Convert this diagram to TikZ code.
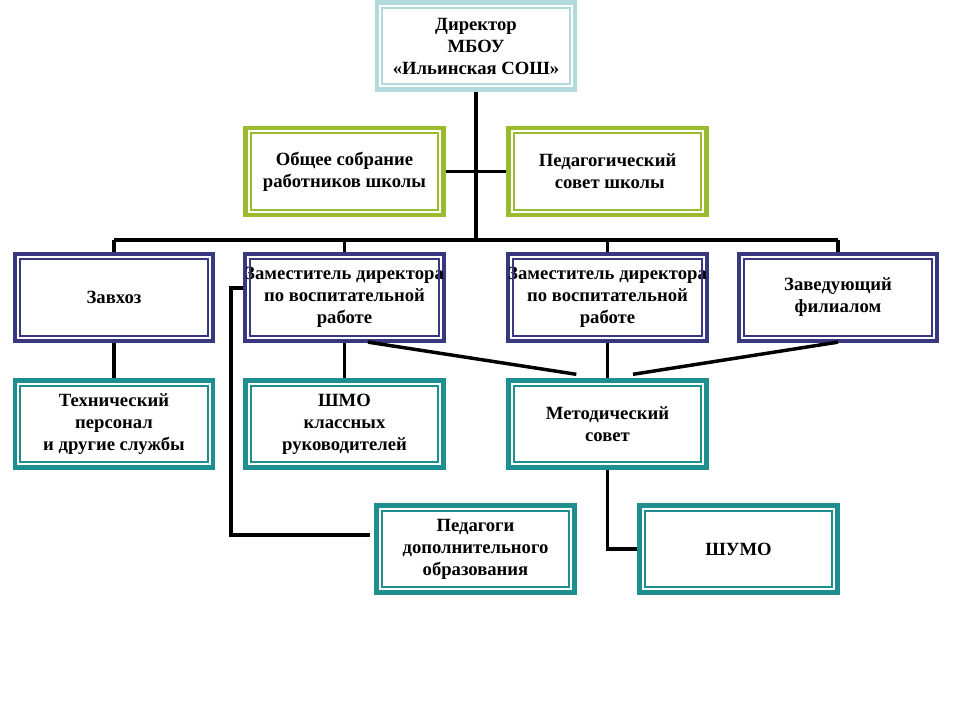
\documentclass[tikz,border=0pt]{standalone}
\usepackage{fontspec}
\setmainfont{Liberation Serif}
\definecolor{dirc}{RGB}{178,218,218}
\definecolor{grn}{RGB}{155,187,46}
\definecolor{blu}{RGB}{56,56,128}
\definecolor{tea}{RGB}{30,142,142}
\begin{document}
\begin{tikzpicture}[x=0.75pt,y=-0.75pt,
  orgbox/.style={draw=#1, line width=3.3pt, minimum width=148.5pt, minimum height=65.25pt,
    inner sep=0pt, align=center, font=\fontsize{14pt}{16.5pt}\selectfont\bfseries, text=black},
  conn/.style={draw=black, line width=2.6pt}]
\useasboundingbox (0,0) rectangle (960,720);
\fill[white] (0,0) rectangle (960,720);

\node[orgbox=dirc] (dir) at (476,46) {Директор\\МБОУ\\«Ильинская СОШ»};
\node[orgbox=grn] (obs) at (344.5,171.5) {Общее собрание\\работников школы};
\node[orgbox=grn] (ped) at (607.5,171.5) {Педагогический\\\ совет школы};
\node[orgbox=blu] (zav) at (114,297.5) {Завхоз};
\node[orgbox=blu] (zam1) at (344.5,297.5) {Заместитель директора\\по воспитательной\\работе};
\node[orgbox=blu] (zam2) at (607.5,297.5) {Заместитель директора\\по воспитательной\\работе};
\node[orgbox=blu] (fil) at (838,297.5) {Заведующий\\филиалом};
\node[orgbox=tea] (tech) at (114,424) {Технический\\персонал\\и другие службы};
\node[orgbox=tea] (shmo) at (344.5,424) {ШМО\\классных\\руководителей};
\node[orgbox=tea] (met) at (607.5,424) {Методический\\совет};
\node[orgbox=tea] (pdo) at (475.5,549) {Педагоги\\дополнительного\\образования};
\node[orgbox=tea] (shumo) at (738.5,549) {ШУМО};

\foreach \n/\c in {dir/dirc,obs/grn,ped/grn,zav/blu,zam1/blu,zam2/blu,fil/blu,tech/tea,shmo/tea,met/tea,pdo/tea,shumo/tea}
  \draw[\c, line width=1.6pt] ([xshift=5.5pt,yshift=-5.5pt]\n.north west) rectangle ([xshift=-5.5pt,yshift=5.5pt]\n.south east);

\coordinate (busL) at (114,240);
\coordinate (busR) at (838,240);
\coordinate (busM) at (476,240);
\path[conn] (busL) -- (busR);
\path[conn] (dir.south) -- (busM);
\path[conn] (obs.east) -- (ped.west);
\path[conn] (zav.north) -- (zav.north |- busL);
\path[conn] (zam1.north) -- (zam1.north |- busL);
\path[conn] (zam2.north) -- (zam2.north |- busL);
\path[conn] (fil.north) -- (fil.north |- busL);
\path[conn] (zav.south) -- (tech.north);
\path[conn] (zam1.south) -- (shmo.north);
\path[conn] (zam2.south) -- (met.north);
\path[conn] ([xshift=17.6pt,yshift=0.8pt]zam1.south) -- ([xshift=-23.4pt,yshift=3pt]met.north);
\path[conn] ([yshift=0.8pt]fil.south) -- ([xshift=19.1pt,yshift=3pt]met.north);
\path[conn] (met.south) |- (shumo.west);
\path[conn] ([yshift=7pt]zam1.west) -- ++(-12,0) |- ([xshift=-3.5pt,yshift=10.5pt]pdo.west);
\end{tikzpicture}
\end{document}
